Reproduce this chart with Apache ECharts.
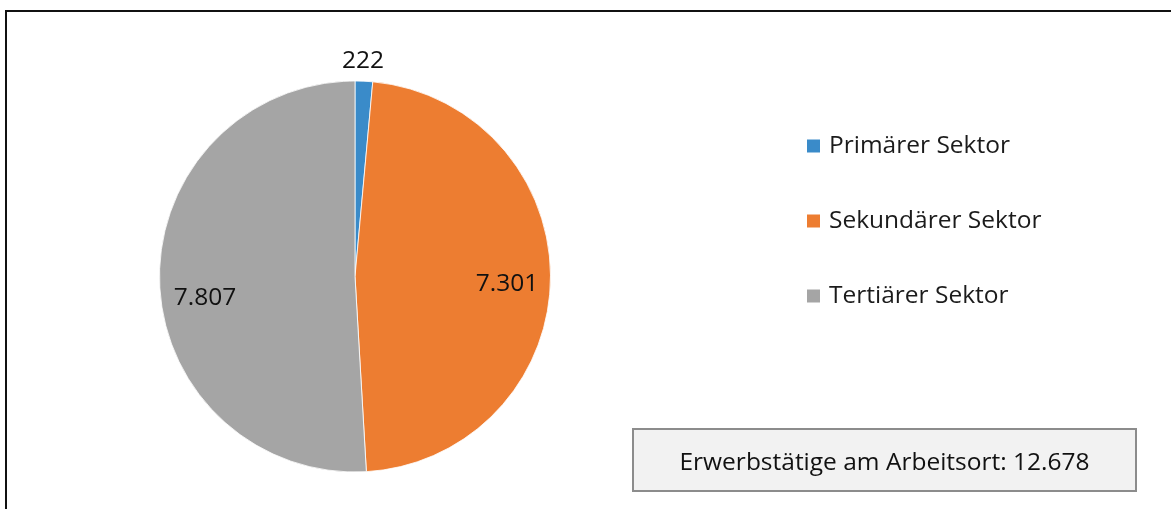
<!DOCTYPE html>
<html>
<head>
<meta charset="utf-8">
<script src="https://cdn.jsdelivr.net/npm/echarts@6/dist/echarts.min.js"></script>
<style>
html,body{margin:0;padding:0;background:#fff;}
#chart{width:1171px;height:509px;}
</style>
</head>
<body>
<div id="chart"></div>
<script>
const categories = ['Primärer Sektor', 'Sekundärer Sektor', 'Tertiärer Sektor'];
const values = [222, 7301, 7807];
const labelTexts = ['222', '7.301', '7.807'];
const colors = ['#3A8BC9', '#ED7D31', '#A5A5A5'];
const totalText = 'Erwerbstätige am Arbeitsort: 12.678';

const FONT = '"Open Sans", sans-serif';
const FS = 24.5;
const cx = 355, cy = 276.5, R = 195.5;
const labelOffsets = [[1, -63], [-1, 5], [3, 17]];

const chart = echarts.init(document.getElementById('chart'), null, {renderer: 'canvas'});

const mainData = categories.map((c, i) => ({name: c, value: values[i], itemStyle: {color: colors[i]}}));
const labelData = categories.map((c, i) => ({
  name: c, value: values[i],
  label: {formatter: labelTexts[i], offset: labelOffsets[i]}
}));

chart.setOption({
  animation: false,
  backgroundColor: '#fff',
  legend: {
    orient: 'vertical',
    left: 800,
    top: 128,
    data: categories,
    icon: 'rect',
    itemWidth: 15,
    itemHeight: 15,
    itemGap: 49,
    selectedMode: false,
    textStyle: {fontFamily: FONT, fontSize: FS, color: '#1b1b1b', lineHeight: 26, padding: [0, 0, 0, 3]}
  },
  series: [
    {
      type: 'pie',
      center: [cx, cy],
      radius: [0, R],
      startAngle: 90,
      clockwise: true,
      silent: true,
      data: mainData,
      itemStyle: {borderColor: '#ffffff', borderWidth: 0.8},
      label: {show: false},
      labelLine: {show: false}
    },
    {
      type: 'pie',
      center: [cx, cy],
      radius: [R * 0.535, R],
      startAngle: 90,
      clockwise: true,
      silent: true,
      data: labelData,
      itemStyle: {color: 'rgba(0,0,0,0)', borderWidth: 0},
      label: {show: true, position: 'inside', fontFamily: FONT, fontSize: FS, color: '#111'},
      labelLine: {show: false},
      emphasis: {disabled: true}
    }
  ],
  graphic: [
    {
      type: 'rect',
      shape: {x: 6, y: 11, width: 1200, height: 600},
      style: {fill: 'none', stroke: '#111', lineWidth: 2},
      silent: true
    },
    {
      type: 'rect',
      shape: {x: 633, y: 429, width: 503, height: 62},
      style: {fill: '#f2f2f2', stroke: '#8c8c8c', lineWidth: 2},
      silent: true
    },
    {
      type: 'text',
      x: 884.5, y: 463,
      style: {text: totalText, fontFamily: FONT, fontSize: FS, fill: '#111', align: 'center', verticalAlign: 'middle'},
      silent: true
    }
  ]
});
</script>
</body>
</html>
